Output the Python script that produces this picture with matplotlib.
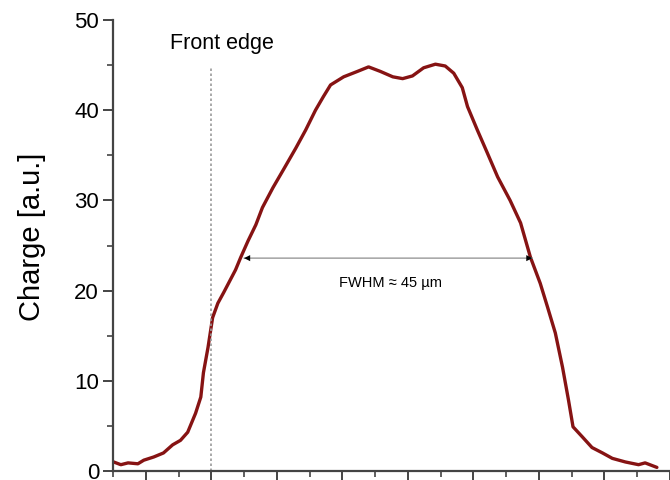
import numpy as np
import matplotlib.pyplot as plt

plt.rcParams['font.family'] = ['Liberation Sans', 'DejaVu Sans']

# position (um) and charge (a.u.)
pos = [5.1, 6.2, 7.3, 8.8, 9.7, 11.2, 12.7, 14.1, 15.3, 16.4, 17.6, 18.4, 18.8,
       19.5, 20.2, 21.0, 21.9, 23.7, 24.5, 25.6, 26.8, 27.8, 29.4, 31.0, 32.9,
       34.4, 35.9, 37.1, 38.2, 40.2, 42.3, 44.0, 45.8, 47.7, 49.2, 50.7, 52.4,
       54.2, 55.7, 57.0, 58.3, 59.1, 60.6, 62.1, 63.7, 65.6, 67.2, 68.7, 70.2,
       71.3, 72.5, 73.6, 74.5, 75.2, 76.6, 78.1, 79.7, 81.2, 83.2, 85.2, 86.2,
       88.0]
charge = [1.0, 0.7, 0.9, 0.8, 1.2, 1.55, 2.0, 2.9, 3.4, 4.3, 6.4, 8.2, 10.9,
          13.7, 17.0, 18.6, 19.8, 22.3, 23.7, 25.5, 27.3, 29.2, 31.4, 33.4, 35.8,
          37.8, 40.0, 41.5, 42.8, 43.7, 44.3, 44.8, 44.3, 43.7, 43.5, 43.8, 44.7,
          45.1, 44.9, 44.1, 42.5, 40.4, 37.8, 35.3, 32.6, 30.0, 27.5, 23.7, 20.8,
          18.2, 15.3, 11.5, 7.9, 4.9, 3.8, 2.6, 2.0, 1.4, 1.0, 0.7, 0.9, 0.4]

front_edge = 20.0
fwhm_left, fwhm_right, fwhm_level = 25.0, 69.0, 23.6

fig = plt.figure(figsize=(6.7, 4.8), dpi=100)
ax = fig.add_axes([113 / 670, 9 / 480, 1 - 113 / 670, 451 / 480])

ax.plot(pos, charge, color='#861313', lw=2.4, solid_capstyle='round',
        solid_joinstyle='round')

# front edge marker
ax.plot([front_edge, front_edge], [0, 44.7], color='#999999', lw=1.2, ls=(0, (1.5, 1.5)))
ax.text(front_edge + 1.7, 47.4, 'Front edge', ha='center', va='center', fontsize=15.5)

# FWHM arrow
ax.annotate('', xy=(fwhm_left, fwhm_level), xytext=(fwhm_right, fwhm_level),
            arrowprops=dict(arrowstyle='-', color='#999999', lw=1.0,
                            shrinkA=0, shrinkB=0))
ax.annotate('', xy=(fwhm_left, fwhm_level), xytext=(fwhm_left + 4, fwhm_level),
            arrowprops=dict(arrowstyle='-|>', color='black', lw=0,
                            mutation_scale=11, shrinkA=0, shrinkB=0))
ax.annotate('', xy=(fwhm_right, fwhm_level), xytext=(fwhm_right - 4, fwhm_level),
            arrowprops=dict(arrowstyle='-|>', color='black', lw=0,
                            mutation_scale=11, shrinkA=0, shrinkB=0))
ax.text(47.3, 20.8, 'FWHM ≈ 45 µm', ha='center', va='center', fontsize=10.5)

ax.set_xlim(5, 90)
ax.set_ylim(0, 50)
ax.set_xticks(np.arange(10, 91, 10))
ax.set_xticks(np.arange(5, 91, 10), minor=True)
ax.set_yticks(np.arange(0, 51, 10))
ax.set_yticks(np.arange(5, 50, 10), minor=True)

for s in ['top', 'right']:
    ax.spines[s].set_visible(False)
for s in ['left', 'bottom']:
    ax.spines[s].set_color('#444444')
    ax.spines[s].set_linewidth(1.6)

ax.tick_params(axis='both', which='major', length=7, width=1.4, color='#444444',
               labelsize=16)
ax.tick_params(axis='both', which='minor', length=4, width=1.2, color='#444444')
ax.tick_params(axis='x', labelbottom=False)
ax.tick_params(axis='y', pad=3)
ax.set_ylabel('Charge [a.u.]', fontsize=21)
ax.yaxis.set_label_coords(-0.12, 0.52)

fig.savefig('out.png', dpi=100)
